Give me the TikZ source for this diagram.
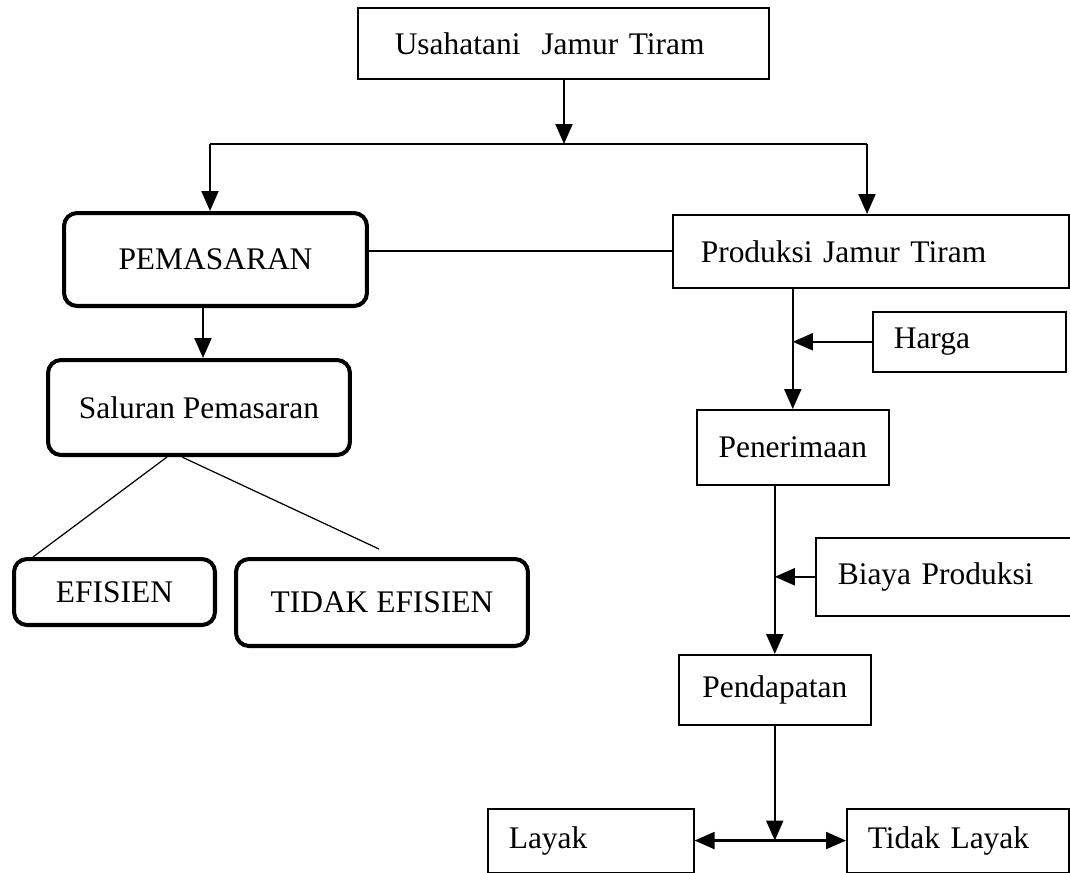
\documentclass[tikz,border=0pt]{standalone}
\usepackage{fontspec}
\setmainfont{Liberation Serif}
\usetikzlibrary{arrows.meta}
\usetikzlibrary{calc}

\newcommand{\boxfont}{\fontsize{17.9}{21}\selectfont}

\tikzset{
  box/.style={draw, line width=0.9pt, anchor=north west, font=\boxfont},
  leftbox/.style={box, align=left},
  roundbox/.style={draw, line width=2.3pt, rounded corners=0.26cm, anchor=north west, font=\boxfont},
  arr/.style={-{Triangle[length=0.4cm,width=0.34cm]}, line width=1.2pt},
  branch/.style={line width=0.7pt}
}

\begin{document}
\begin{tikzpicture}[x=0.02cm, y=-0.02cm]
\useasboundingbox (0,0) rectangle (1070,872);
%top
\node[leftbox, text width=6.74cm, inner xsep=0.74cm, minimum height=1.42cm] (usaha) at (357,7) {Usahatani\ \ Jamur Tiram};
%left side
\node[roundbox, minimum width=6.06cm, minimum height=1.86cm] (pemas) at (62,211) {PEMASARAN};
\node[roundbox, minimum width=6.04cm, minimum height=1.90cm] (salur) at (46,358) {Saluran Pemasaran};
\node[roundbox, minimum width=4.02cm, minimum height=1.32cm] (efis) at (12,557) {EFISIEN};
\node[roundbox, minimum width=5.84cm, minimum height=1.74cm] (tidakef) at (234,557) {TIDAK EFISIEN};
%right side
\node[leftbox, text width=6.80cm, inner xsep=0.56cm, minimum height=1.46cm] (prod) at (672,214) {Produksi Jamur Tiram};
\node[leftbox, text width=3.02cm, inner xsep=0.42cm, minimum height=1.20cm] (harga) at (872,311) {Harga};
\node[box, minimum width=3.84cm, minimum height=1.50cm] (pener) at (696,409) {Penerimaan};
\node[leftbox, text width=4.32cm, inner xsep=0.44cm, minimum height=1.56cm] (biaya) at (815,537) {Biaya Produksi};
\node[box, minimum width=3.84cm, minimum height=1.40cm] (pendap) at (678,654) {Pendapatan};
%bottom
\node[leftbox, text width=3.28cm, inner xsep=0.42cm, minimum height=1.27cm] (layak) at (487,808) {Layak};
\node[leftbox, text width=3.60cm, inner xsep=0.42cm, minimum height=1.27cm] (tlayak) at (846,808) {Tidak Layak};

%split under the top box
\coordinate (split) at (564,144);
\coordinate (splitL) at (210,144);
\coordinate (splitR) at (867,144);
\draw[arr] (usaha.south -| split) -- (split);
\draw[line width=1.1pt] (splitL) -- (splitR);
\draw[arr] (splitL) -- (splitL |- pemas.north);
\draw[arr] (splitR) -- (splitR |- prod.north);

%left branch
\draw[line width=0.9pt] (prod.west) -- (prod.west -| pemas.east);
\draw[arr] ($(salur.north |- pemas.south)+(4,0)$) -- ($(salur.north)+(4,0)$);
\draw[branch] ($(salur.south)+(-32,0)$) -- ($(efis.north west)+(21,0)$);
\draw[branch] ($(salur.south)+(-17,0)$) -- ($(tidakef.north)+(-3,-8)$);

%right branch
\draw[arr] (pener.north |- prod.south) -- (pener.north);
\draw[arr] (harga.west) -- (harga.west -| pener.north);
\draw[arr] (pendap.north |- pener.south) -- (pendap.north);
\draw[arr] (biaya.west) -- (biaya.west -| pendap.north);
\coordinate (fork) at (pendap.south |- layak.east);
\draw[arr] (pendap.south) -- (fork);
\draw[arr] (fork) -- (layak.east);
\draw[arr] (fork) -- (tlayak.west);
\end{tikzpicture}
\end{document}
